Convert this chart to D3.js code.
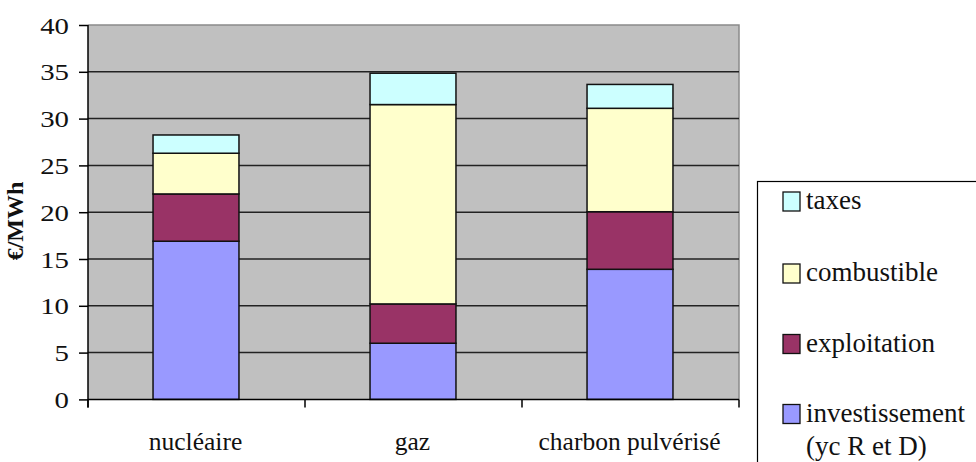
<!DOCTYPE html>
<html>
<head>
<meta charset="utf-8">
<script src="https://cdn.jsdelivr.net/npm/d3@7"></script>
</head>
<body style="margin:0;background:#fff">
<svg id="chart" width="976" height="462" font-family="Liberation Serif"></svg>
<script>
const categories = ["nucléaire", "gaz", "charbon pulvérisé"];
const investissement = [16.9, 6.0, 13.9];
const exploitation = [5.05, 4.2, 6.15];
const combustible = [4.35, 21.3, 11.05];
const taxes = [1.95, 3.35, 2.55];
const seriesNames = ["investissement", "exploitation", "combustible", "taxes"];
const legendLabels = [["taxes"], ["combustible"], ["exploitation"], ["investissement", "(yc R et D)"]];
const yTicks = [0, 5, 10, 15, 20, 25, 30, 35, 40];
const yTitle = "€/MWh";

const colors = {investissement: "#9999FF", exploitation: "#993366", combustible: "#FFFFCC", taxes: "#CCFFFF"};
const FONT = "Liberation Serif";

const svg = d3.select("#chart");
const plot = {left: 88, right: 739, top: 25, bottom: 399.4};

const y = d3.scaleLinear().domain([0, 40]).range([plot.bottom, plot.top]);
const x = d3.scaleBand().domain(categories).range([plot.left, plot.right]).paddingInner(0).paddingOuter(0);

function serif(sel) {
  return sel.attr("font-family", FONT).attr("fill", "#111");
}

// plot background
svg.append("rect").attr("x", plot.left).attr("y", plot.top)
  .attr("width", plot.right - plot.left).attr("height", plot.bottom - plot.top)
  .attr("fill", "#C0C0C0");
svg.append("path").attr("d", `M${plot.left},${plot.top}H${plot.right}V${plot.bottom}`)
  .attr("fill", "none").attr("stroke", "#8a8a8a").attr("stroke-width", 1.5);

// gridlines
svg.append("g").selectAll("line").data(yTicks.filter(t => t > 0 && t < 40)).join("line")
  .attr("x1", plot.left).attr("x2", plot.right)
  .attr("y1", d => y(d)).attr("y2", d => y(d))
  .attr("stroke", "#222").attr("stroke-width", 1.5);

// stacked bars
const rows = categories.map((c, i) => ({cat: c, investissement: investissement[i], exploitation: exploitation[i], combustible: combustible[i], taxes: taxes[i]}));
const stack = d3.stack().keys(seriesNames)(rows);
const bw = x.bandwidth() * 0.396;

svg.append("g").selectAll("g").data(stack).join("g")
  .attr("fill", d => colors[d.key])
  .selectAll("rect").data(d => d).join("rect")
  .attr("x", d => x(d.data.cat) + x.bandwidth() / 2 - bw / 2 - 0.5)
  .attr("width", bw)
  .attr("y", d => y(d[1]))
  .attr("height", d => y(d[0]) - y(d[1]))
  .attr("stroke", "#111").attr("stroke-width", 1.5);

// y axis
const yAxis = d3.axisLeft(y).tickValues(yTicks).tickSize(9).tickPadding(10).tickFormat(d3.format("d"));
const gy = svg.append("g").attr("transform", `translate(${plot.left},0)`).call(yAxis);
gy.attr("font-family", FONT).attr("font-size", 24);
gy.select(".domain").attr("stroke", "#000").attr("stroke-width", 1.5).attr("d", `M0,${plot.top}V${plot.bottom + 8}`);
gy.selectAll(".tick line").attr("stroke", "#000").attr("stroke-width", 1.5);
gy.selectAll(".tick text").call(serif).attr("font-size", 24)
  .attr("dy", "0.34em")
  .each(function() {
    const t = d3.select(this);
    const xx = +t.attr("x");
    t.attr("x", null).attr("transform", `translate(${xx},0) scale(1.2,1)`);
  });

// x axis
const gx = svg.append("g");
gx.append("line").attr("x1", plot.left).attr("x2", plot.right).attr("y1", plot.bottom).attr("y2", plot.bottom)
  .attr("stroke", "#000").attr("stroke-width", 1.5);
const bounds = categories.map(c => x(c)).concat([x.range()[1]]);
gx.selectAll("line.tk").data(bounds).join("line").attr("class", "tk")
  .attr("x1", d => d).attr("x2", d => d).attr("y1", plot.bottom).attr("y2", plot.bottom + 8)
  .attr("stroke", "#000").attr("stroke-width", 1.5);
gx.selectAll("text").data(categories).join("text")
  .call(serif)
  .attr("x", d => x(d) + x.bandwidth() / 2 - 1).attr("y", 450)
  .attr("text-anchor", "middle").attr("font-size", 25.5)
  .text(d => d);

// y title
svg.append("text").call(serif)
  .attr("transform", "translate(23,221) rotate(-90)")
  .attr("text-anchor", "middle").attr("font-size", 24).attr("font-weight", "bold")
  .text(yTitle);

// legend
const lg = svg.append("g");
lg.append("rect").attr("x", 757.5).attr("y", 181.5).attr("width", 240).attr("height", 300)
  .attr("fill", "#fff").attr("stroke", "#000").attr("stroke-width", 1.2);
const legendKeys = ["taxes", "combustible", "exploitation", "investissement"];
const legendBase = [209, 281, 351.5, 421.5];
legendKeys.forEach((k, i) => {
  lg.append("rect").attr("x", 783).attr("y", legendBase[i] - 17).attr("width", 17).attr("height", 19)
    .attr("fill", colors[k]).attr("stroke", "#111").attr("stroke-width", 1.3);
  legendLabels[i].forEach((line, j) => {
    lg.append("text").call(serif)
      .attr("x", 806).attr("y", legendBase[i] + j * 33.5)
      .attr("font-size", 27).text(line);
  });
});
</script>
</body>
</html>
